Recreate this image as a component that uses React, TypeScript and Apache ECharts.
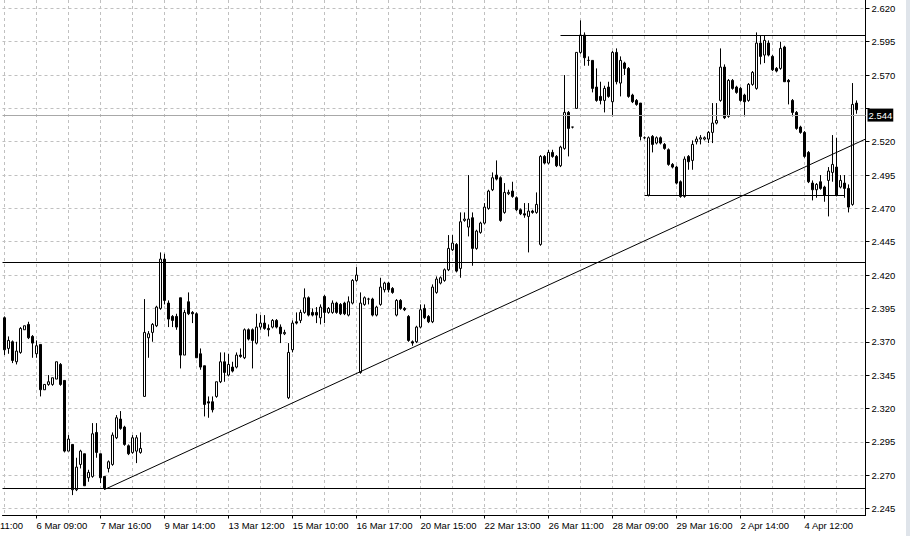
import React, { useEffect, useRef } from "react";
import * as echarts from "echarts";

// OHLC per bar: [open, close, low, high]
const ohlc: number[][] = [
  [2.388, 2.364, 2.360, 2.389], [2.365, 2.371, 2.361, 2.374], [2.370, 2.356, 2.354, 2.371], [2.355, 2.363, 2.353, 2.370],
  [2.362, 2.380, 2.361, 2.381], [2.379, 2.382, 2.379, 2.382], [2.383, 2.373, 2.372, 2.385], [2.374, 2.369, 2.358, 2.375],
  [2.361, 2.367, 2.358, 2.371], [2.368, 2.334, 2.329, 2.368], [2.334, 2.338, 2.334, 2.338], [2.338, 2.340, 2.337, 2.345],
  [2.338, 2.343, 2.337, 2.343], [2.342, 2.355, 2.342, 2.355], [2.353, 2.338, 2.337, 2.354], [2.341, 2.288, 2.287, 2.341],
  [2.288, 2.297, 2.288, 2.300], [2.293, 2.259, 2.255, 2.293], [2.259, 2.276, 2.258, 2.283], [2.278, 2.288, 2.275, 2.289],
  [2.286, 2.262, 2.262, 2.286], [2.268, 2.272, 2.265, 2.274], [2.269, 2.301, 2.268, 2.309], [2.302, 2.287, 2.283, 2.309],
  [2.286, 2.268, 2.264, 2.286], [2.269, 2.260, 2.259, 2.269], [2.275, 2.280, 2.272, 2.281], [2.278, 2.300, 2.277, 2.302],
  [2.298, 2.313, 2.297, 2.315], [2.312, 2.305, 2.304, 2.318], [2.306, 2.293, 2.292, 2.307], [2.292, 2.286, 2.285, 2.293],
  [2.287, 2.298, 2.286, 2.300], [2.288, 2.298, 2.279, 2.300], [2.287, 2.290, 2.286, 2.302], [2.329, 2.377, 2.329, 2.402],
  [2.373, 2.376, 2.358, 2.378], [2.377, 2.383, 2.370, 2.384], [2.382, 2.396, 2.381, 2.397], [2.395, 2.432, 2.394, 2.437],
  [2.432, 2.401, 2.398, 2.436], [2.399, 2.387, 2.381, 2.401], [2.389, 2.386, 2.381, 2.390], [2.389, 2.381, 2.379, 2.391],
  [2.403, 2.360, 2.350, 2.403], [2.360, 2.392, 2.360, 2.394], [2.400, 2.391, 2.390, 2.407], [2.392, 2.391, 2.384, 2.393],
  [2.391, 2.358, 2.358, 2.392], [2.361, 2.351, 2.349, 2.365], [2.352, 2.323, 2.314, 2.352], [2.325, 2.324, 2.313, 2.329],
  [2.325, 2.319, 2.317, 2.329], [2.329, 2.340, 2.328, 2.340], [2.340, 2.355, 2.339, 2.362], [2.355, 2.347, 2.340, 2.362],
  [2.345, 2.353, 2.344, 2.361], [2.351, 2.348, 2.347, 2.355], [2.351, 2.360, 2.350, 2.362], [2.360, 2.359, 2.358, 2.365],
  [2.358, 2.379, 2.357, 2.380], [2.379, 2.372, 2.371, 2.380], [2.379, 2.371, 2.350, 2.380], [2.369, 2.381, 2.368, 2.391],
  [2.381, 2.384, 2.379, 2.390], [2.384, 2.380, 2.379, 2.390], [2.380, 2.379, 2.374, 2.383], [2.381, 2.386, 2.380, 2.387],
  [2.386, 2.381, 2.380, 2.387], [2.381, 2.376, 2.369, 2.383], [2.376, 2.377, 2.375, 2.379], [2.328, 2.362, 2.327, 2.369],
  [2.364, 2.384, 2.362, 2.386], [2.385, 2.384, 2.383, 2.392], [2.386, 2.392, 2.384, 2.394], [2.392, 2.403, 2.391, 2.410],
  [2.403, 2.390, 2.389, 2.404], [2.392, 2.390, 2.389, 2.395], [2.392, 2.390, 2.384, 2.396], [2.388, 2.396, 2.383, 2.398],
  [2.404, 2.392, 2.384, 2.405], [2.392, 2.395, 2.391, 2.396], [2.392, 2.399, 2.391, 2.401], [2.399, 2.392, 2.391, 2.400],
  [2.398, 2.391, 2.390, 2.399], [2.399, 2.391, 2.390, 2.400], [2.390, 2.400, 2.389, 2.404], [2.399, 2.416, 2.398, 2.417],
  [2.416, 2.420, 2.415, 2.426], [2.347, 2.399, 2.346, 2.407], [2.398, 2.403, 2.397, 2.404], [2.402, 2.402, 2.398, 2.403],
  [2.402, 2.390, 2.389, 2.403], [2.390, 2.396, 2.389, 2.397], [2.398, 2.411, 2.397, 2.418], [2.409, 2.414, 2.407, 2.415],
  [2.414, 2.409, 2.407, 2.415], [2.410, 2.407, 2.406, 2.411], [2.390, 2.401, 2.389, 2.402], [2.401, 2.395, 2.394, 2.402],
  [2.395, 2.394, 2.393, 2.396], [2.389, 2.371, 2.370, 2.390], [2.370, 2.369, 2.367, 2.371], [2.370, 2.381, 2.369, 2.382],
  [2.381, 2.394, 2.380, 2.398], [2.395, 2.388, 2.387, 2.398], [2.389, 2.385, 2.384, 2.390], [2.385, 2.411, 2.384, 2.413],
  [2.407, 2.417, 2.406, 2.419], [2.414, 2.418, 2.413, 2.419], [2.416, 2.424, 2.415, 2.425], [2.424, 2.440, 2.423, 2.450],
  [2.439, 2.444, 2.438, 2.450], [2.443, 2.423, 2.422, 2.444], [2.425, 2.460, 2.418, 2.467], [2.461, 2.462, 2.460, 2.467],
  [2.456, 2.462, 2.449, 2.495], [2.463, 2.440, 2.427, 2.467], [2.440, 2.453, 2.439, 2.454], [2.452, 2.459, 2.451, 2.460],
  [2.459, 2.471, 2.458, 2.474], [2.470, 2.483, 2.469, 2.484], [2.484, 2.493, 2.483, 2.497], [2.495, 2.492, 2.491, 2.506],
  [2.493, 2.461, 2.460, 2.494], [2.467, 2.482, 2.466, 2.489], [2.481, 2.482, 2.480, 2.484], [2.483, 2.479, 2.478, 2.490],
  [2.478, 2.469, 2.468, 2.479], [2.469, 2.466, 2.465, 2.470], [2.466, 2.465, 2.463, 2.474], [2.464, 2.468, 2.437, 2.474],
  [2.468, 2.467, 2.466, 2.469], [2.467, 2.473, 2.466, 2.482], [2.443, 2.509, 2.442, 2.510], [2.509, 2.504, 2.503, 2.510],
  [2.504, 2.512, 2.503, 2.514], [2.512, 2.509, 2.508, 2.514], [2.509, 2.502, 2.501, 2.510], [2.502, 2.516, 2.501, 2.517],
  [2.515, 2.542, 2.514, 2.570], [2.542, 2.530, 2.509, 2.543], [2.531, 2.531, 2.530, 2.531], [2.545, 2.587, 2.545, 2.587],
  [2.587, 2.600, 2.586, 2.611], [2.600, 2.583, 2.577, 2.602], [2.581, 2.581, 2.577, 2.584], [2.581, 2.560, 2.557, 2.581],
  [2.561, 2.551, 2.550, 2.575], [2.554, 2.551, 2.548, 2.565], [2.551, 2.560, 2.542, 2.562], [2.561, 2.554, 2.553, 2.565],
  [2.550, 2.587, 2.539, 2.588], [2.587, 2.565, 2.563, 2.590], [2.564, 2.581, 2.554, 2.584], [2.579, 2.575, 2.570, 2.580],
  [2.575, 2.554, 2.553, 2.576], [2.555, 2.550, 2.549, 2.556], [2.551, 2.548, 2.547, 2.552], [2.549, 2.524, 2.521, 2.549],
  [2.523, 2.523, 2.522, 2.524], [2.480, 2.523, 2.479, 2.524], [2.524, 2.518, 2.512, 2.525], [2.519, 2.523, 2.518, 2.524],
  [2.523, 2.519, 2.518, 2.524], [2.518, 2.515, 2.514, 2.519], [2.514, 2.503, 2.502, 2.515], [2.503, 2.501, 2.500, 2.504],
  [2.501, 2.489, 2.488, 2.502], [2.490, 2.479, 2.478, 2.491], [2.479, 2.507, 2.478, 2.509], [2.509, 2.505, 2.499, 2.510],
  [2.506, 2.518, 2.499, 2.521], [2.520, 2.522, 2.518, 2.524], [2.522, 2.523, 2.518, 2.525], [2.522, 2.523, 2.521, 2.524],
  [2.522, 2.527, 2.519, 2.528], [2.527, 2.534, 2.519, 2.549], [2.534, 2.536, 2.533, 2.549], [2.551, 2.576, 2.550, 2.590],
  [2.576, 2.538, 2.537, 2.578], [2.539, 2.566, 2.538, 2.567], [2.566, 2.560, 2.559, 2.567], [2.561, 2.557, 2.556, 2.562],
  [2.560, 2.551, 2.550, 2.561], [2.555, 2.550, 2.539, 2.556], [2.551, 2.563, 2.550, 2.564], [2.563, 2.572, 2.562, 2.573],
  [2.560, 2.594, 2.559, 2.602], [2.594, 2.584, 2.578, 2.600], [2.585, 2.596, 2.579, 2.600], [2.594, 2.585, 2.584, 2.596],
  [2.584, 2.574, 2.573, 2.585], [2.575, 2.573, 2.572, 2.576], [2.575, 2.590, 2.574, 2.595], [2.591, 2.565, 2.565, 2.592],
  [2.566, 2.565, 2.548, 2.567], [2.551, 2.542, 2.539, 2.552], [2.542, 2.530, 2.529, 2.543], [2.531, 2.527, 2.526, 2.532],
  [2.527, 2.509, 2.508, 2.528], [2.512, 2.490, 2.489, 2.513], [2.489, 2.484, 2.476, 2.491], [2.484, 2.488, 2.478, 2.489],
  [2.490, 2.485, 2.484, 2.495], [2.486, 2.480, 2.475, 2.487], [2.491, 2.498, 2.464, 2.501], [2.497, 2.503, 2.490, 2.525],
  [2.501, 2.480, 2.479, 2.523], [2.486, 2.491, 2.485, 2.495], [2.489, 2.485, 2.478, 2.495], [2.485, 2.471, 2.467, 2.488],
  [2.473, 2.548, 2.472, 2.564], [2.549, 2.544, 2.541, 2.551],
];

// time-axis labels and the bar index each one sits on
const timeLabels = [
  "6 Mar 09:00", "7 Mar 16:00", "9 Mar 14:00", "13 Mar 12:00", "15 Mar 10:00", "16 Mar 17:00",
  "20 Mar 15:00", "22 Mar 13:00", "26 Mar 11:00", "28 Mar 09:00", "29 Mar 16:00", "2 Apr 14:00", "4 Apr 12:00",
];
const labelBars = [8, 24, 40, 56, 72, 88, 104, 120, 136, 152, 168, 184, 200];
const gridBars = [0, 8, 16, 24, 32, 40, 48, 56, 64, 72, 80, 88, 96, 104, 112, 120, 128, 136, 144, 152, 160, 168, 176, 184, 192, 200, 208];
const cutLabel = "11:00";

// price ticks
const priceTicks = [2.245, 2.27, 2.295, 2.32, 2.345, 2.37, 2.395, 2.42, 2.445, 2.47, 2.495, 2.52, 2.545, 2.57, 2.595, 2.62];
const priceLabels = [2.245, 2.27, 2.295, 2.32, 2.345, 2.37, 2.395, 2.42, 2.445, 2.47, 2.495, 2.52, 2.57, 2.595, 2.62];

// drawn objects
const hLevels = [2.26, 2.428];
const topLevel = { from: 139, price: 2.6 };
const boxLow = { from: 160, to: 210, price: 2.48 };
const trend = { fromBar: 25, fromPrice: 2.2592, toPrice: 2.522 };

const X_MIN = -0.5;
const X_MAX = 215.25;
const Y_MIN = 2.2397;
const Y_MAX = 2.6263;

const FONT = '"Liberation Sans", Arial, sans-serif';
const FS = 9.5;

export default function App() {
  const ref = useRef<HTMLDivElement>(null);
  useEffect(() => {
    if (!ref.current) return;
    const chart = echarts.init(ref.current, undefined, { renderer: "svg" });
    const lastClose = ohlc[ohlc.length - 1][1];
    const option: any = {
      animation: false,
      backgroundColor: "#ffffff",
      textStyle: { fontFamily: FONT },
      grid: { left: 2.5, right: 44.5, top: 0, bottom: 20.5, containLabel: false },
      xAxis: [
        {
          type: "value",
          min: X_MIN,
          max: X_MAX,
          axisLine: { show: true, onZero: false, lineStyle: { color: "#000", width: 1 } },
          axisTick: { show: true, customValues: labelBars, length: 3, lineStyle: { color: "#000" } },
          axisLabel: {
            customValues: labelBars,
            formatter: (v: number) => {
              const k = labelBars.indexOf(Math.round(v));
              return k >= 0 ? timeLabels[k] : "";
            },
            align: "left",
            margin: 5,
            color: "#000",
            fontFamily: FONT,
            fontSize: FS,
          },
          splitLine: { show: false },
        },
        {
          type: "value",
          min: X_MIN,
          max: X_MAX,
          position: "bottom",
          axisLine: { show: false },
          axisTick: { show: false, customValues: gridBars },
          axisLabel: { show: false },
          splitLine: { show: true, lineStyle: { color: "#c0c0c0", type: [3, 3], width: 1 } },
        },
      ],
      yAxis: {
        type: "value",
        position: "right",
        min: Y_MIN,
        max: Y_MAX,
        axisLine: { show: true, onZero: false, lineStyle: { color: "#000", width: 1 } },
        axisTick: { show: true, customValues: priceTicks, length: 4, lineStyle: { color: "#000" } },
        axisLabel: {
          customValues: priceLabels,
          formatter: (v: number) => v.toFixed(3),
          margin: 6,
          color: "#000",
          fontFamily: FONT,
          fontSize: FS,
        },
        splitLine: { show: true, lineStyle: { color: "#c0c0c0", type: [3, 3], width: 1 } },
      },
      series: [
        {
          type: "candlestick",
          xAxisIndex: 0,
          yAxisIndex: 0,
          barWidth: 2,
          encode: { x: 0, y: [1, 2, 3, 4] },
          data: ohlc.map((d, i) => [i, d[0], d[1], d[2], d[3]]),
          itemStyle: {
            color: "#ffffff",
            color0: "#000000",
            borderColor: "#000000",
            borderColor0: "#000000",
            borderWidth: 1,
          },
          markLine: {
            silent: true,
            symbol: ["none", "none"],
            animation: false,
            label: { show: false },
            lineStyle: { color: "#000", width: 1, type: "solid" },
            data: [
              ...hLevels.map((v) => ({ yAxis: v })),
              [{ coord: [topLevel.from, topLevel.price] }, { coord: [X_MAX, topLevel.price] }],
              [{ coord: [boxLow.from, boxLow.price] }, { coord: [boxLow.to, boxLow.price] }],
              [{ coord: [trend.fromBar, trend.fromPrice] }, { coord: [X_MAX, trend.toPrice] }],
              {
                yAxis: lastClose,
                lineStyle: { color: "#a8a8a8", width: 1, type: "solid" },
                label: {
                  show: true,
                  position: "end",
                  distance: 2,
                  formatter: lastClose.toFixed(3),
                  color: "#fff",
                  backgroundColor: "#000",
                  padding: [2, 1, 1, 1],
                  fontFamily: FONT,
                  fontSize: FS,
                },
              },
            ],
          },
        },
      ],
      graphic: [
        {
          type: "text",
          x: 0,
          y: 525.5,
          silent: true,
          style: { text: cutLabel, fill: "#000", font: `${FS}px ${FONT}`, verticalAlign: "middle", align: "left" },
        },
        { type: "rect", silent: true, shape: { x: 906, y: 0, width: 4, height: 536 }, style: { fill: "#dfe4ea" } },
      ],
    };
    chart.setOption(option);
    return () => chart.dispose();
  }, []);
  return <div ref={ref} style={{ position: "fixed", left: 0, top: 0, width: 910, height: 536 }} />;
}
